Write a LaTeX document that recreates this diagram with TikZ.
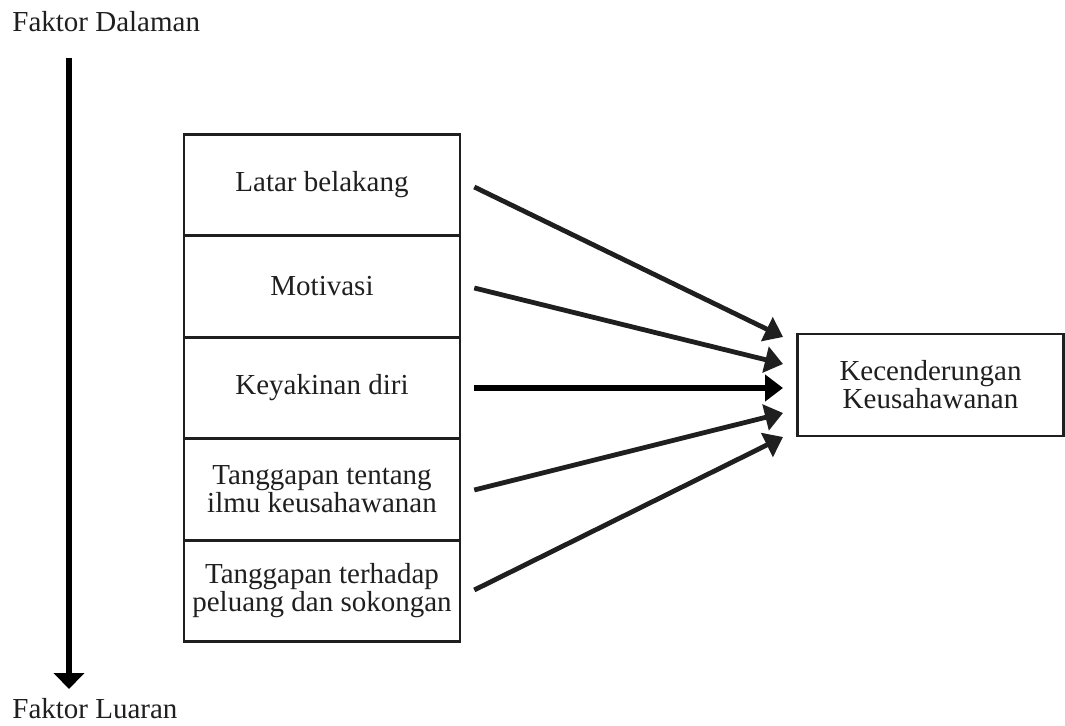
\documentclass[tikz,border=0pt]{standalone}
\usepackage{fontspec}
\setmainfont{Liberation Serif}
\usetikzlibrary{arrows.meta,calc}
\begin{document}
\begin{tikzpicture}[x=0.5pt,y=-0.5pt,
  every node/.style={font=\fontsize{14.5}{14}\selectfont, text=black!88},
  factor/.style={draw=black!88, line width=1.3pt, minimum width=138pt, minimum height=50.7pt, inner sep=0pt, align=center},
  result/.style={draw=black!88, line width=1.3pt, minimum width=133pt, minimum height=51pt, inner sep=0pt, align=center},
  conn/.style={draw=black!88, line width=2.4pt, -{Triangle[length=9pt,width=13pt]}},
  axis/.style={draw=black, line width=2.6pt, -{Triangle[length=8pt,width=15pt]}},
  lbl/.style={anchor=base west, inner sep=0pt}
]
\useasboundingbox (0,0) rectangle (1065,726);
\node[lbl] (top) at (12,32) {Faktor Dalaman};
\node[lbl] (bot) at (12,718) {Faktor Luaran};
\coordinate (ax1) at (69,58);
\coordinate (ax2) at (69,689);
\draw[axis] (ax1) -- (ax2);

\node[factor] (b1) at (322,185) {Latar belakang};
\node[factor] (b2) at (322,286.5) {Motivasi};
\node[factor] (b3) at (322,388) {Keyakinan diri};
\node[factor] (b4) at (322,489.5) {Tanggapan tentang\\ilmu keusahawanan};
\node[factor] (b5) at (322,591) {Tanggapan terhadap\\peluang dan sokongan};

\node[result] (k) at (930.5,385) {Kecenderungan\\Keusahawanan};

\coordinate (t1) at (783,337);
\coordinate (t2) at (783,364);
\coordinate (t3) at (783,388);
\coordinate (t4) at (783,413);
\coordinate (t5) at (783,437);

\draw[conn] ($(b1.east)+(13,2)$) -- (t1);
\draw[conn] ($(b2.east)+(13,1.5)$) -- (t2);
\draw[conn, draw=black, line width=2.8pt] ($(b3.east)+(13,0)$) -- (t3);
\draw[conn] ($(b4.east)+(13,0.5)$) -- (t4);
\draw[conn] ($(b5.east)+(13,-1)$) -- (t5);
\end{tikzpicture}
\end{document}
